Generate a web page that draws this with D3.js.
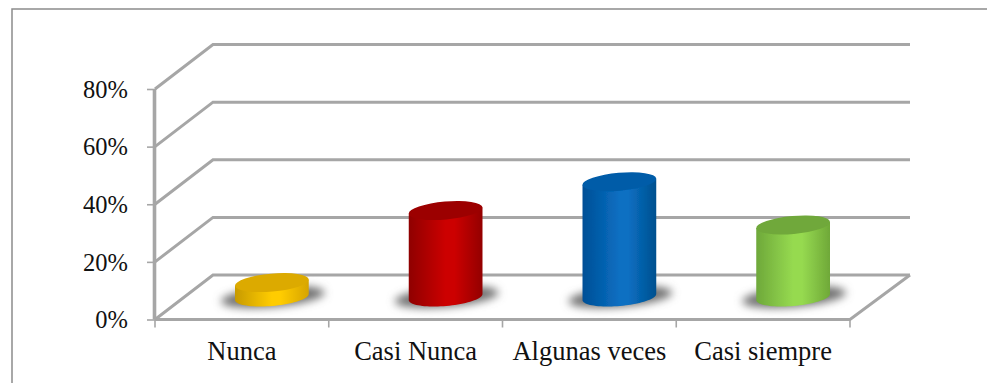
<!DOCTYPE html>
<html>
<head>
<meta charset="utf-8">
<script src="https://cdn.jsdelivr.net/npm/d3@7/dist/d3.min.js"></script>
<style>
html,body{margin:0;padding:0;background:#fff}
svg{display:block}
text{font-family:"Liberation Serif",serif;fill:#111}
</style>
</head>
<body>
<svg id="chart" width="987" height="383"></svg>
<script>
// Survey answers and their share of responses
const categories = ["Nunca", "Casi Nunca", "Algunas veces", "Casi siempre"];
const shares = [5, 30, 40, 25];
const tickValues = [0, 20, 40, 60, 80];
const sideColors = [
  ["#c79a00", "#ffcc00", "#d6a400"],
  ["#8f0000", "#cc0000", "#930000"],
  ["#004f96", "#0a6fc2", "#00508f"],
  ["#6ea83a", "#96da50", "#6fa838"]
];
const topColors = ["#dcaa00", "#9c0000", "#005ca8", "#6fa83a"];

const svg = d3.select("#chart");
const defs = svg.append("defs");

const depthX = 59, depthY = 44.5;
const x = d3.scaleBand().domain(categories).range([155, 850]);
const y = d3.scaleLinear().domain([0, 80]).range([319.5, 89]);
const grey = "#a6a6a6";

const soft = defs.append("filter").attr("id", "soft")
  .attr("x", "-25%").attr("y", "-80%").attr("width", "150%").attr("height", "260%");
soft.append("feGaussianBlur").attr("stdDeviation", 4.5);
const crisp = defs.append("filter").attr("id", "crisp");
crisp.append("feGaussianBlur").attr("stdDeviation", 0.4);

categories.forEach((c, i) => {
  const g = defs.append("linearGradient").attr("id", "side" + i)
    .attr("x1", 0).attr("x2", 1).attr("y1", 0).attr("y2", 0);
  [[0, 0], [0.5, 1], [0.62, 1], [1, 2]].forEach(([o, k]) =>
    g.append("stop").attr("offset", o).attr("stop-color", sideColors[i][k]));
});

// Outer frame: only the left and top edges fall inside the page
svg.append("path").attr("d", d3.line()([[12, 383], [12, 9], [987, 9]]))
  .attr("fill", "none").attr("stroke", "#8c8c8c").attr("stroke-width", 1.5);

// Gridlines running along the back wall, with their side-wall returns
const grid = svg.append("g").attr("fill", "none").attr("stroke", grey)
  .attr("stroke-width", 3).attr("filter", "url(#crisp)");
tickValues.forEach(v => {
  const yf = y(v);
  grid.append("path").attr("d",
    d3.line()([[155, yf], [155 + depthX - 1, yf - depthY], [910, yf - depthY]]));
});
// Floor front edge and right return
grid.append("path").attr("d",
  d3.line()([[155, y(0)], [850, y(0)], [910, y(0) - depthY]]));
// Vertical axis
grid.append("path").attr("d", d3.line()([[154.5, y(80)], [154.5, y(0)]]))
  .attr("stroke-width", 3.6);

// Axis tick marks and labels
const yAxis = d3.axisLeft(y).tickValues(tickValues).tickSize(8).tickPadding(19)
  .tickFormat(d => d + "%");
const yG = svg.append("g").attr("transform", "translate(155,0)").call(yAxis);
yG.select(".domain").remove();
yG.selectAll("line").attr("stroke", grey).attr("stroke-width", 1.6);
yG.selectAll("text").attr("fill", "#111").attr("dy", "0.34em")
  .style("font-size", "24.5px");

const xEdges = [155].concat(categories.map(c => x(c) + x.bandwidth()));
svg.append("g").selectAll("line").data(xEdges).join("line")
  .attr("x1", d => d).attr("x2", d => d)
  .attr("y1", y(0)).attr("y2", y(0) + 8)
  .attr("stroke", grey).attr("stroke-width", 1.6);

const xAxis = d3.axisBottom(x).tickSize(0).tickPadding(30);
const xG = svg.append("g").attr("transform", `translate(0,${y(0)})`).call(xAxis);
xG.select(".domain").remove();
xG.selectAll("text").attr("fill", "#111").attr("dy", "0.4em")
  .style("font-size", "26.5px");

// Cylinders: drop shadow, body and tilted top cap
const rx = 37, ry = 9, tilt = -5;
const tiltRad = tilt * Math.PI / 180;
// Horizontal reach and matching vertical offset of the tilted ellipse at its extreme points
const reach = Math.sqrt(rx * rx * Math.cos(tiltRad) ** 2 + ry * ry * Math.sin(tiltRad) ** 2);
const lift = (rx * rx - ry * ry) * Math.sin(tiltRad) * Math.cos(tiltRad) / reach;

const shadows = svg.append("g");
const bars = svg.append("g").attr("filter", "url(#crisp)");
categories.forEach((c, i) => {
  const cx = x(c) + x.bandwidth() / 2 + 30;
  const baseY = y(0) - 22.5;
  const h = y(0) - y(shares[i]);
  const topY = baseY - h;

  shadows.append("ellipse")
    .attr("cx", cx + 1).attr("cy", baseY)
    .attr("rx", rx + 15).attr("ry", ry + 1)
    .attr("transform", `rotate(${tilt} ${cx} ${baseY})`)
    .attr("fill", "#707070").attr("filter", "url(#soft)");

  const path = d3.path();
  path.moveTo(cx - reach, topY - lift);
  path.lineTo(cx + reach, topY + lift);
  path.lineTo(cx + reach, baseY + lift);
  // Lower half of the base ellipse, traced back to the left edge
  const steps = d3.range(0, 41).map(k => {
    const t = k / 40 * Math.PI;
    const ex = rx * Math.cos(t), ey = ry * Math.sin(t);
    return [
      cx + ex * Math.cos(tiltRad) - ey * Math.sin(tiltRad),
      baseY + ex * Math.sin(tiltRad) + ey * Math.cos(tiltRad)
    ];
  });
  steps.forEach(p => path.lineTo(p[0], p[1]));
  path.lineTo(cx - reach, topY - lift);
  path.closePath();

  bars.append("path").attr("d", path.toString()).attr("fill", `url(#side${i})`);
  bars.append("ellipse").attr("cx", cx).attr("cy", topY)
    .attr("rx", rx).attr("ry", ry)
    .attr("transform", `rotate(${tilt} ${cx} ${topY})`)
    .attr("fill", topColors[i]);
});
</script>
</body>
</html>
